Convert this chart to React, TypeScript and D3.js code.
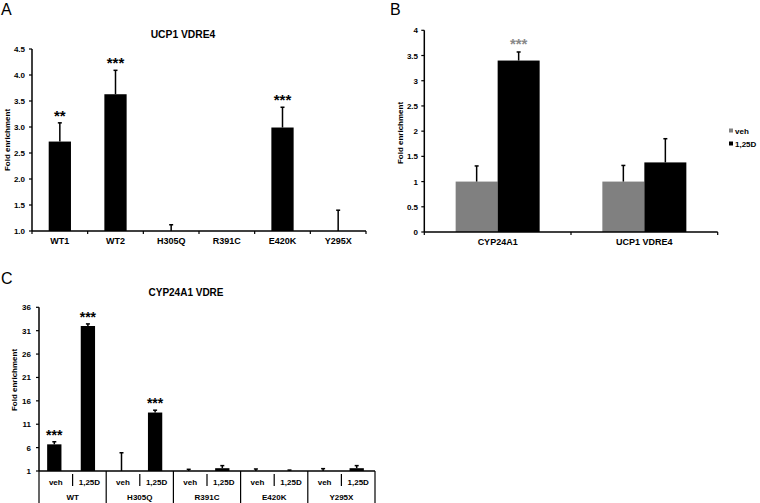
import React from 'react';
import * as d3 from 'd3';

// ---------- Panel A data ----------
const aCategories = ['WT1', 'WT2', 'H305Q', 'R391C', 'E420K', 'Y295X'];
const aValues = [2.72, 3.63, 1.0, 1.0, 2.99, 1.0];
const aErrors = [0.36, 0.46, 0.12, 0, 0.39, 0.4];
const aStars = ['**', '***', '', '', '***', ''];
const aTicks = [1.0, 1.5, 2.0, 2.5, 3.0, 3.5, 4.0, 4.5];

// ---------- Panel B data ----------
const bCategories = ['CYP24A1', 'UCP1 VDRE4'];
const bSeries = ['veh', '1,25D'];
const bVeh = [1.0, 1.0];
const bVehErr = [0.31, 0.32];
const bD = [3.4, 1.38];
const bDErr = [0.17, 0.47];
const bStars = ['***', ''];
const bTicks = [0, 0.5, 1, 1.5, 2, 2.5, 3, 3.5, 4];

// ---------- Panel C data ----------
const cGroups = ['WT', 'H305Q', 'R391C', 'E420K', 'Y295X'];
const cTreatments = ['veh', '1,25D'];
const cVeh = [6.7, 1.0, 1.0, 1.0, 1.0];
const cVehErr = [0.55, 3.9, 0.36, 0.43, 0.5];
const cD = [32.0, 13.5, 1.6, 1.0, 1.6];
const cDErr = [0.45, 0.5, 0.55, 0.2, 0.55];
const cVehStars = ['***', '', '', '', ''];
const cDStars = ['***', '***', '', '', ''];
const cTicks = [1, 6, 11, 16, 21, 26, 31, 36];

const FONT = '"Liberation Sans", Arial, Helvetica, sans-serif';
const SW = 1.5;

function ErrBar({ x, y0, y1 }: { x: number; y0: number; y1: number }) {
  if (Math.abs(y0 - y1) < 0.5) return null;
  return (
    <g stroke="#000" strokeWidth={SW}>
      <line x1={x} x2={x} y1={y0} y2={y1} />
      <line x1={x - 2} x2={x + 2} y1={y1} y2={y1} />
    </g>
  );
}

function PanelA() {
  const x = d3.scaleBand<string>().domain(aCategories).range([32, 366]).paddingInner(0.6).paddingOuter(0.3);
  const step = x.step();
  const y = d3.scaleLinear().domain([1.0, 4.5]).range([231, 49]);
  const fmt = d3.format('.1f');
  return (
    <g fontFamily={FONT} fontWeight="bold">
      <text x={1} y={14.5} fontSize={16} fontWeight="normal">A</text>
      <text x={183} y={38} fontSize={10.3} textAnchor="middle">UCP1 VDRE4</text>
      <text transform={`translate(9.5,140) rotate(-90)`} fontSize={8} textAnchor="middle">Fold enrichment</text>
      {aCategories.map((c, i) => {
        const bx = x(c)!;
        const bw = x.bandwidth();
        const cx = bx + bw / 2;
        const top = y(aValues[i]);
        const errTop = y(aValues[i] + aErrors[i]);
        return (
          <g key={c}>
            {aValues[i] > 1 && <rect x={bx} y={top} width={bw} height={y(1) - top} fill="#000" />}
            <ErrBar x={cx} y0={top} y1={errTop} />
            {aStars[i] && (
              <text x={cx} y={errTop - 2} fontSize={15} textAnchor="middle">{aStars[i]}</text>
            )}
            <text x={cx} y={243.5} fontSize={9} textAnchor="middle">{c}</text>
          </g>
        );
      })}
      {/* axes */}
      <line x1={32} x2={32} y1={y(4.5)} y2={y(1)} stroke="#000" strokeWidth={SW} />
      <line x1={32} x2={366} y1={y(1)} y2={y(1)} stroke="#000" strokeWidth={SW} />
      {aTicks.map(t => (
        <g key={t}>
          <line x1={29} x2={32} y1={y(t)} y2={y(t)} stroke="#000" strokeWidth={1.2} />
          <text x={25} y={y(t) + 3} fontSize={8} textAnchor="end">{fmt(t)}</text>
        </g>
      ))}
      {d3.range(aCategories.length + 1).map(i => (
        <line key={i} x1={32 + i * step} x2={32 + i * step} y1={y(1)} y2={y(1) + 3} stroke="#000" strokeWidth={1.2} />
      ))}
    </g>
  );
}

function PanelB() {
  const x0 = d3.scaleBand<string>().domain(bCategories).range([424.3, 717.7]).paddingInner(0).paddingOuter(0);
  const x1 = d3.scaleBand<string>().domain(bSeries).range([0, 84]);
  const y = d3.scaleLinear().domain([0, 4]).range([232, 30.3]);
  const color = d3.scaleOrdinal<string, string>().domain(bSeries).range(['#808080', '#000000']);
  const vals = [bVeh, bD];
  const errs = [bVehErr, bDErr];
  return (
    <g fontFamily={FONT} fontWeight="bold">
      <text x={390} y={15} fontSize={16} fontWeight="normal">B</text>
      <text transform={`translate(403,133) rotate(-90)`} fontSize={8} textAnchor="middle">Fold enrichment</text>
      {bCategories.map((c, i) => {
        const gx = x0(c)! + x0.bandwidth() / 2 - 42;
        return (
          <g key={c}>
            {bSeries.map((s, j) => {
              const bx = gx + x1(s)!;
              const bw = x1.bandwidth();
              const v = vals[j][i];
              const top = y(v);
              const errTop = y(v + errs[j][i]);
              return (
                <g key={s}>
                  <rect x={bx} y={top} width={bw} height={y(0) - top} fill={color(s)} />
                  <ErrBar x={bx + bw / 2} y0={top} y1={errTop} />
                  {j === 1 && bStars[i] && (
                    <text x={bx + bw / 2} y={errTop - 3} fontSize={15} fill="#8a8a8a" textAnchor="middle">{bStars[i]}</text>
                  )}
                </g>
              );
            })}
            <text x={x0(c)! + x0.bandwidth() / 2} y={244.5} fontSize={9} textAnchor="middle">{c}</text>
          </g>
        );
      })}
      <line x1={424.3} x2={424.3} y1={y(4)} y2={y(0)} stroke="#000" strokeWidth={SW} />
      <line x1={424.3} x2={717.7} y1={y(0)} y2={y(0)} stroke="#000" strokeWidth={SW} />
      {bTicks.map(t => (
        <g key={t}>
          <line x1={421.3} x2={424.3} y1={y(t)} y2={y(t)} stroke="#000" strokeWidth={1.2} />
          <text x={418} y={y(t) + 3} fontSize={8} textAnchor="end">{t}</text>
        </g>
      ))}
      {d3.range(bCategories.length + 1).map(i => {
        const xx = 424.3 + i * x0.step();
        return <line key={i} x1={xx} x2={xx} y1={y(0)} y2={y(0) + 3} stroke="#000" strokeWidth={1.2} />;
      })}
      {/* legend */}
      {bSeries.map((s, j) => (
        <g key={s}>
          <rect x={729} y={128.5 + j * 13} width={4} height={4} fill={color(s)} />
          <text x={735} y={133.5 + j * 13} fontSize={8}>{s}</text>
        </g>
      ))}
    </g>
  );
}

function PanelC() {
  const left = 39;
  const right = 375;
  const x0 = d3.scaleBand<string>().domain(cGroups).range([left, right]);
  const x1 = d3.scaleBand<string>().domain(cTreatments).range([0, x0.bandwidth()]);
  const y = d3.scaleLinear().domain([1, 36]).range([471, 307.3]);
  const vals = [cVeh, cD];
  const errs = [cVehErr, cDErr];
  const stars = [cVehStars, cDStars];
  const bw = 14.3;
  const axisY = y(1);
  return (
    <g fontFamily={FONT} fontWeight="bold">
      <text x={1} y={283.5} fontSize={16} fontWeight="normal">C</text>
      <text x={186} y={296} fontSize={10} textAnchor="middle">CYP24A1 VDRE</text>
      <text transform={`translate(17,380) rotate(-90)`} fontSize={8} textAnchor="middle">Fold enrichment</text>
      {cGroups.map((g, i) => {
        const gx = x0(g)!;
        return (
          <g key={g}>
            {cTreatments.map((t, j) => {
              const cx = gx + x1(t)! + x1.bandwidth() / 2 - 1.5;
              const v = vals[j][i];
              const top = y(v);
              const errTop = y(v + errs[j][i]);
              return (
                <g key={t}>
                  {v > 1 && <rect x={cx - bw / 2} y={top} width={bw} height={axisY - top} fill="#000" />}
                  <ErrBar x={cx} y0={top} y1={errTop} />
                  {stars[j][i] && (
                    <text x={cx} y={errTop - 2} fontSize={14} textAnchor="middle">{stars[j][i]}</text>
                  )}
                  <text x={gx + x1(t)! + x1.bandwidth() / 2} y={485} fontSize={8} textAnchor="middle">{t}</text>
                </g>
              );
            })}
            <line x1={gx + x1.bandwidth()} x2={gx + x1.bandwidth()} y1={axisY + 3} y2={axisY + 15} stroke="#000" strokeWidth={1.2} />
            <text x={gx + x0.bandwidth() / 2} y={499.5} fontSize={8} textAnchor="middle">{g}</text>
          </g>
        );
      })}
      {d3.range(cGroups.length + 1).map(i => {
        const xx = left + i * x0.step();
        return <line key={i} x1={xx} x2={xx} y1={axisY} y2={504} stroke="#000" strokeWidth={1.2} />;
      })}
      <line x1={left} x2={left} y1={y(36)} y2={axisY} stroke="#000" strokeWidth={SW} />
      <line x1={left} x2={right} y1={axisY} y2={axisY} stroke="#000" strokeWidth={SW} />
      {cTicks.map(t => (
        <g key={t}>
          <line x1={left - 3} x2={left} y1={y(t)} y2={y(t)} stroke="#000" strokeWidth={1.2} />
          <text x={31} y={y(t) + 3} fontSize={8} textAnchor="end">{t}</text>
        </g>
      ))}
    </g>
  );
}

export default function App() {
  return (
    <svg
      width={760}
      height={503}
      viewBox="0 0 760 503"
      style={{ position: 'absolute', left: 0, top: 0, background: '#fff' }}
    >
      <rect width={760} height={503} fill="#fff" />
      <PanelA />
      <PanelB />
      <PanelC />
    </svg>
  );
}
